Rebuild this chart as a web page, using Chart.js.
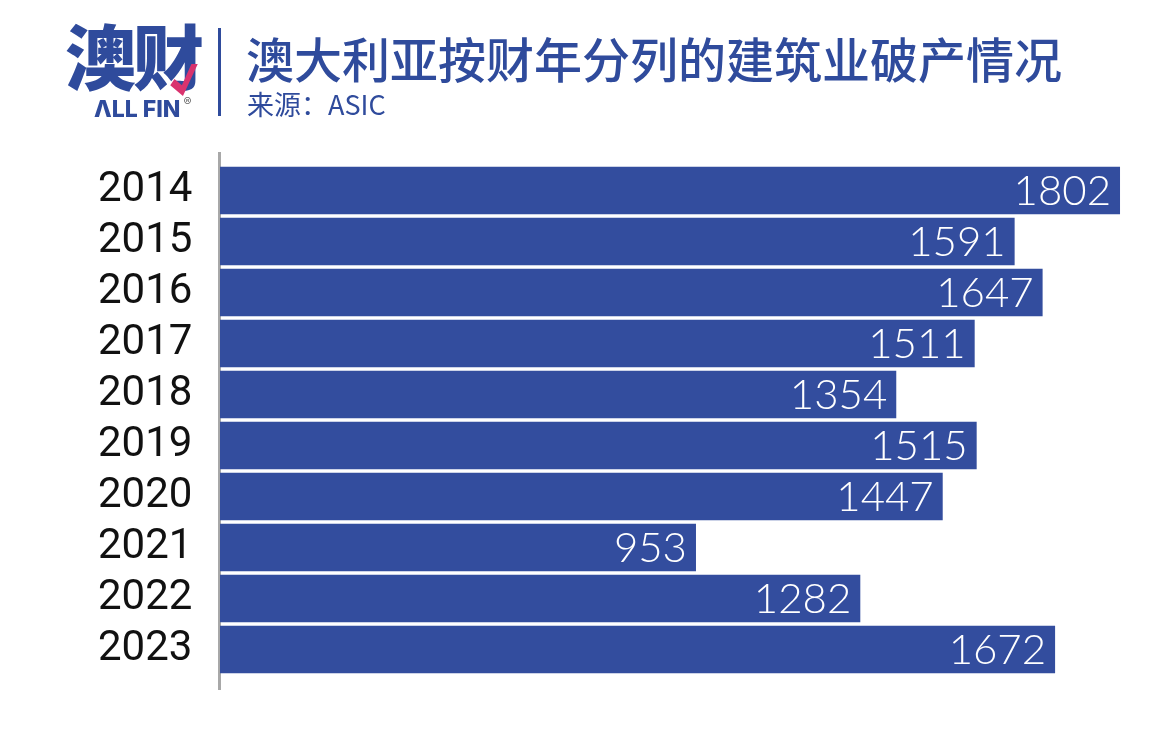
<!DOCTYPE html>
<html>
<head>
<meta charset="utf-8">
<script src="https://cdn.jsdelivr.net/npm/chart.js@4"></script>
<style>
  body { margin: 0; background: #fff; }
  #wrap { position: relative; width: 1165px; height: 748px; overflow: hidden; }
  #chart { position: absolute; left: 0; top: 0; }
  .hdr { position: absolute; color: #2f4b9c; font-family: "Noto Sans CJK SC", sans-serif; white-space: nowrap; }
  #logo { left: 65px; top: 18px; font-size: 71px; font-weight: 900; line-height: 1; letter-spacing: -3px; }
  #check { position: absolute; left: 168px; top: 62px; width: 32px; height: 36px; }
  #allfin { left: 94px; top: 94px; font-family: "Inter", sans-serif; font-size: 23px; font-weight: 800; letter-spacing: 0px; }
  #allfin sup { font-size: 12px; font-weight: 400; color: #666; margin-left: 3px; vertical-align: 11px; }
  #sep { position: absolute; left: 218px; top: 28px; width: 3px; height: 88px; background: #2f4b9c; }
  #title { left: 246px; top: 22px; font-size: 48px; font-weight: 500; }
  #sub { left: 247px; top: 84px; font-size: 27px; font-weight: 400; }
</style>
</head>
<body>
<div id="wrap">
  <canvas id="chart" width="1165" height="748"></canvas>
  <div class="hdr" id="logo">澳财</div>
  <svg id="check" viewBox="0 0 30 34"><path d="M2 22 L14 32 L28 2 L22 2 L13 22 L6 16 Z" fill="#d9336e"/></svg>
  <div class="hdr" id="allfin">ΛLL FIN<sup>®</sup></div>
  <div id="sep"></div>
  <div class="hdr" id="title">澳大利亚按财年分列的建筑业破产情况</div>
  <div class="hdr" id="sub">来源：ASIC</div>
</div>
<script>
var years = ["2014", "2015", "2016", "2017", "2018", "2019", "2020", "2021", "2022", "2023"];
var insolvencies = [1802, 1591, 1647, 1511, 1354, 1515, 1447, 953, 1282, 1672];
var x_max = 1842;

var barColor = "#334d9e";

// value labels inside the bar end, plus the long left axis line
var valueLabels = {
  id: "valueLabels",
  afterDatasetsDraw: function(chart) {
    var ctx = chart.ctx;
    var meta = chart.getDatasetMeta(0);
    ctx.save();
    ctx.fillStyle = "#ffffff";
    ctx.font = "300 42px Lato, 'Open Sans', sans-serif";
    ctx.textAlign = "right";
    ctx.textBaseline = "middle";
    meta.data.forEach(function(bar, i) {
      ctx.fillText(String(insolvencies[i]), bar.x - 9, bar.y + 1);
    });
    ctx.restore();
  },
  beforeDatasetsDraw: function(chart) {
    var ctx = chart.ctx;
    var area = chart.chartArea;
    ctx.save();
    ctx.strokeStyle = "#a8a8a8";
    ctx.lineWidth = 3;
    ctx.beginPath();
    ctx.moveTo(area.left - 0.5, area.top - 13);
    ctx.lineTo(area.left - 0.5, area.bottom + 15);
    ctx.stroke();
    ctx.restore();
  }
};

new Chart(document.getElementById("chart").getContext("2d"), {
  type: "bar",
  data: {
    labels: years,
    datasets: [{
      data: insolvencies,
      backgroundColor: barColor,
      borderWidth: 0,
      categoryPercentage: 1,
      barPercentage: 0.935
    }]
  },
  options: {
    indexAxis: "y",
    responsive: false,
    animation: false,
    layout: {
      padding: { top: 165, bottom: 73, left: 98, right: 25 }
    },
    plugins: {
      legend: { display: false },
      tooltip: { enabled: false }
    },
    scales: {
      x: {
        display: false,
        min: 0,
        max: x_max
      },
      y: {
        grid: { display: false },
        border: { display: false },
        afterFit: function(scale) { scale.width = 122; },
        ticks: {
          autoSkip: false,
          crossAlign: "far",
          color: "#111111",
          font: { size: 42, family: "Roboto, 'Noto Sans', sans-serif" }
        }
      }
    }
  },
  plugins: [valueLabels]
});
</script>
</body>
</html>
